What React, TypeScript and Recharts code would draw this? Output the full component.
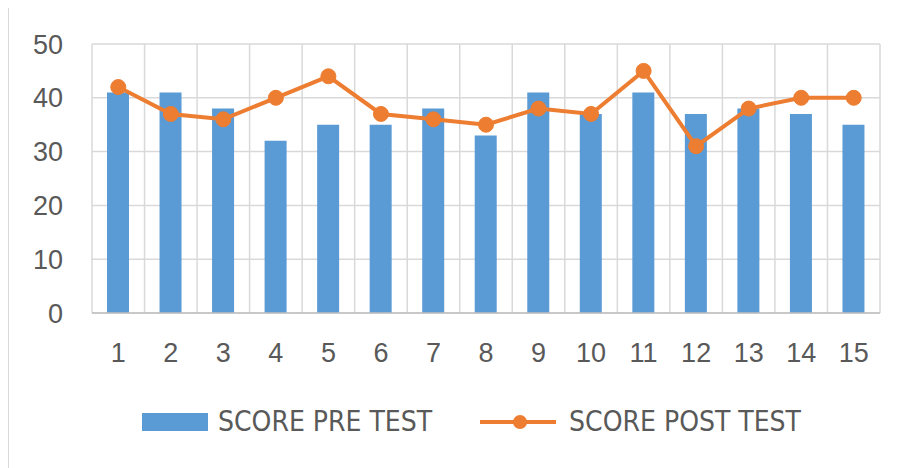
import {
  Bar,
  CartesianGrid,
  ComposedChart,
  Line,
  XAxis,
  YAxis,
} from "recharts";

const students = ["1", "2", "3", "4", "5", "6", "7", "8", "9", "10", "11", "12", "13", "14", "15"];
const preTest = [41, 41, 38, 32, 35, 35, 38, 33, 41, 37, 41, 37, 38, 37, 35];
const postTest = [42, 37, 36, 40, 44, 37, 36, 35, 38, 37, 45, 31, 38, 40, 40];
const yTicks = [0, 10, 20, 30, 40, 50];

const seriesNames = { pre: "SCORE PRE TEST", post: "SCORE POST TEST" };

const BLUE = "#5B9BD5";
const ORANGE = "#ED7D31";
const TEXT = "#595959";
const GRID = "#d9d9d9";

const data = students.map((n, i) => ({ n, pre: preTest[i], post: postTest[i] }));

const tickFont = "'Liberation Sans', Arial, sans-serif";
const legendFont = "'Liberation Sans Narrow', 'DejaVu Sans Condensed', 'Liberation Sans', sans-serif";

function LegendRow() {
  return (
    <div
      style={{
        position: "absolute",
        left: 133,
        top: 400,
        display: "flex",
        alignItems: "center",
        fontFamily: legendFont,
        fontSize: 28,
        color: TEXT,
        lineHeight: "28px",
      }}
    >
      <span style={{ width: 66, height: 18, background: BLUE, display: "inline-block" }} />
      <span style={{ marginLeft: 10 }}>{seriesNames.pre}</span>
      <svg width={76} height={20} style={{ marginLeft: 48 }}>
        <line x1={0} y1={10} x2={76} y2={10} stroke={ORANGE} strokeWidth={4} />
        <circle cx={40} cy={10} r={7} fill={ORANGE} />
      </svg>
      <span style={{ marginLeft: 13 }}>{seriesNames.post}</span>
    </div>
  );
}

export default function App() {
  return (
    <div
      style={{
        position: "relative",
        width: 896,
        height: 460,
        marginTop: -1,
        borderTop: `1px solid ${GRID}`,
        borderLeft: `1px solid ${GRID}`,
      }}
    >
      <ComposedChart
        width={896}
        height={460}
        data={data}
        margin={{ top: 36, right: 25, bottom: 125, left: 23 }}
      >
        <CartesianGrid
          stroke={GRID}
          strokeWidth={1.5}
          verticalCoordinatesGenerator={({ offset }: any) =>
            Array.from({ length: students.length + 1 }, (_, i) => offset.left + (i * offset.width) / students.length)
          }
        />
        <XAxis
          dataKey="n"
          height={30}
          axisLine={{ stroke: "#bfbfbf", strokeWidth: 1.5 }}
          tickLine={false}
          tickMargin={24}
          interval={0}
          tick={{ fill: TEXT, fontSize: 27, fontFamily: tickFont }}
        />
        <YAxis
          width={60}
          domain={[0, 50]}
          ticks={yTicks}
          axisLine={false}
          tickLine={false}
          tickMargin={23}
          tick={{ fill: TEXT, fontSize: 27, fontFamily: tickFont }}
        />
        <Bar dataKey="pre" name={seriesNames.pre} fill={BLUE} barSize={22} isAnimationActive={false} />
        <Line
          dataKey="post"
          name={seriesNames.post}
          stroke={ORANGE}
          strokeWidth={4}
          dot={{ r: 7.5, fill: ORANGE, stroke: ORANGE, strokeWidth: 1 }}
          activeDot={false}
          isAnimationActive={false}
        />
      </ComposedChart>
      <LegendRow />
    </div>
  );
}
